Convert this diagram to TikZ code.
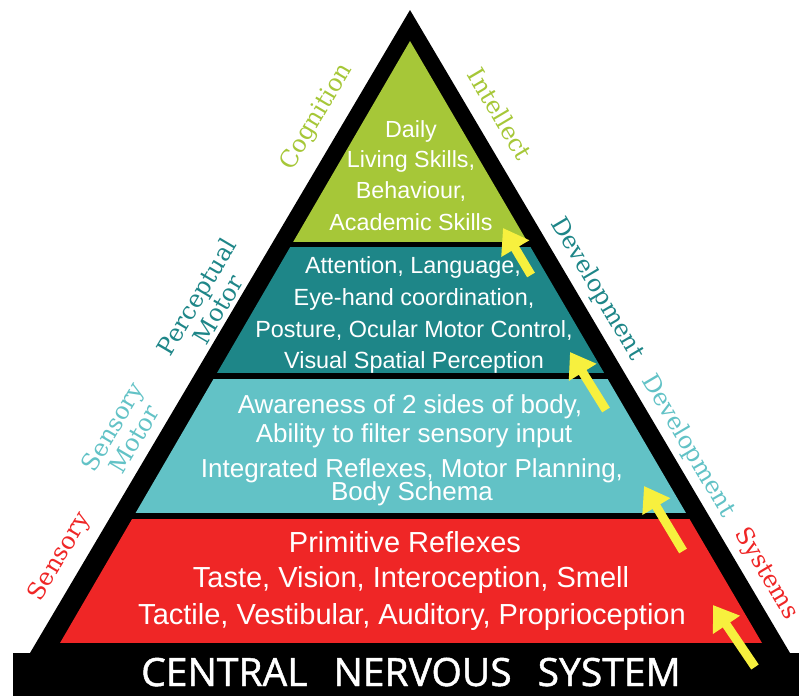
\documentclass[tikz,border=0pt]{standalone}
\usepackage{fontspec}
\usepackage{graphicx}
\setmainfont{Liberation Sans}
\newfontfamily\slabfont{DejaVu Serif}
\newfontfamily\barfont{Open Sans}[FakeBold=1.2]
\usetikzlibrary{arrows.meta}

\definecolor{lvlgreen}{RGB}{166,199,56}
\definecolor{lvlteal}{RGB}{30,134,136}
\definecolor{lvlaqua}{RGB}{98,194,198}
\definecolor{lvlred}{RGB}{239,38,38}
\definecolor{arrowyellow}{RGB}{247,240,62}

\begin{document}
\begin{tikzpicture}[x=1pt,y=-1pt,
    layertext/.style={text=white,anchor=base,inner sep=0pt,font=\fontsize{#1}{#1}\selectfont},
    sidelabel/.style={font=\slabfont\fontsize{24}{25}\selectfont,align=center,inner sep=0pt},
    uparrow/.style={draw=arrowyellow,line width=9pt,-{Triangle[width=31pt,length=24pt]}}]
        \useasboundingbox (0,0) rectangle (799,696);
        % black frame and base
        \fill[black] (410,10) -- (30,653) -- (790,653) -- cycle;
        \fill[black] (12.7,653) rectangle (799,696);
        % the four levels
        \begin{scope}
            \clip (410,41) -- (60,643) -- (762,643) -- cycle;
            \fill[lvlgreen] (0,0) rectangle (799,242);
            \fill[lvlteal] (0,247) rectangle (799,373);
            \fill[lvlaqua] (0,379) rectangle (799,513);
            \fill[lvlred] (0,519) rectangle (799,643);
        \end{scope}
        \node[text=white,anchor=base,inner sep=0pt,font=\barfont\fontsize{39}{39}\selectfont] (cns) at (411,686) {CENTRAL\hspace{26pt}NERVOUS\hspace{26pt}SYSTEM};
        % level texts
        \node[layertext=23.3] (g1) at (411,137) {Daily};
        \node[layertext=23.3] (g2) at (411,167) {Living Skills,};
        \node[layertext=23.3] (g3) at (411,198) {Behaviour,};
        \node[layertext=23.3] (g4) at (411,230) {Academic Skills};
        \node[layertext=23.4] (t1) at (413,273) {Attention, Language,};
        \node[layertext=23.4] (t2) at (414,305) {Eye-hand coordination,};
        \node[layertext=23.4] (t3) at (414,337) {Posture, Ocular Motor Control,};
        \node[layertext=23.4] (t4) at (414,368) {Visual Spatial Perception};
        \node[layertext=26] (a1) at (410,413) {Awareness of 2 sides of body,};
        \node[layertext=26] (a2) at (414,442) {Ability to filter sensory input};
        \node[layertext=26] (a3) at (412,477) {Integrated Reflexes, Motor Planning,};
        \node[layertext=26] (a4) at (412,500) {Body Schema};
        \node[layertext=29] (r1) at (405,552) {Primitive Reflexes};
        \node[layertext=29] (r2) at (411,587) {Taste, Vision, Interoception, Smell};
        \node[layertext=29] (r3) at (412,624) {Tactile, Vestibular, Auditory, Proprioception};
        % side labels
        \node[sidelabel,text=lvlgreen,rotate=59.4] (cog) at (317,117) {Cognition};
        \node[sidelabel,text=lvlgreen,rotate=-59.4] (intel) at (500,114) {Intellect};
        \node[sidelabel,text=lvlteal,rotate=59.4] (percm) at (207,303) {Perceptual\\Motor};
        \node[sidelabel,text=lvlteal,rotate=-59.4] (devA) at (597,289) {Development};
        \node[sidelabel,text=lvlaqua,rotate=59.4] (sensm) at (123,433) {Sensory\\Motor};
        \node[sidelabel,text=lvlaqua,rotate=-59.4] (devB) at (688,446) {Development};
        \node[sidelabel,text=lvlred,rotate=59.4] (sens) at (60,557) {Sensory};
        \node[sidelabel,text=lvlred,rotate=-59.4] (sys) at (766,574) {Systems};
        % arrows
        \coordinate (up1a) at (531,275); \coordinate (up1b) at (503,228);
        \coordinate (up2a) at (606,410); \coordinate (up2b) at (570,352);
        \coordinate (up3a) at (683,551); \coordinate (up3b) at (644,486);
        \coordinate (up4a) at (755,667); \coordinate (up4b) at (713,605);
        \draw[uparrow] (up1a) -- (up1b);
        \draw[uparrow] (up2a) -- (up2b);
        \draw[uparrow] (up3a) -- (up3b);
        \draw[uparrow] (up4a) -- (up4b);
\end{tikzpicture}
\end{document}
